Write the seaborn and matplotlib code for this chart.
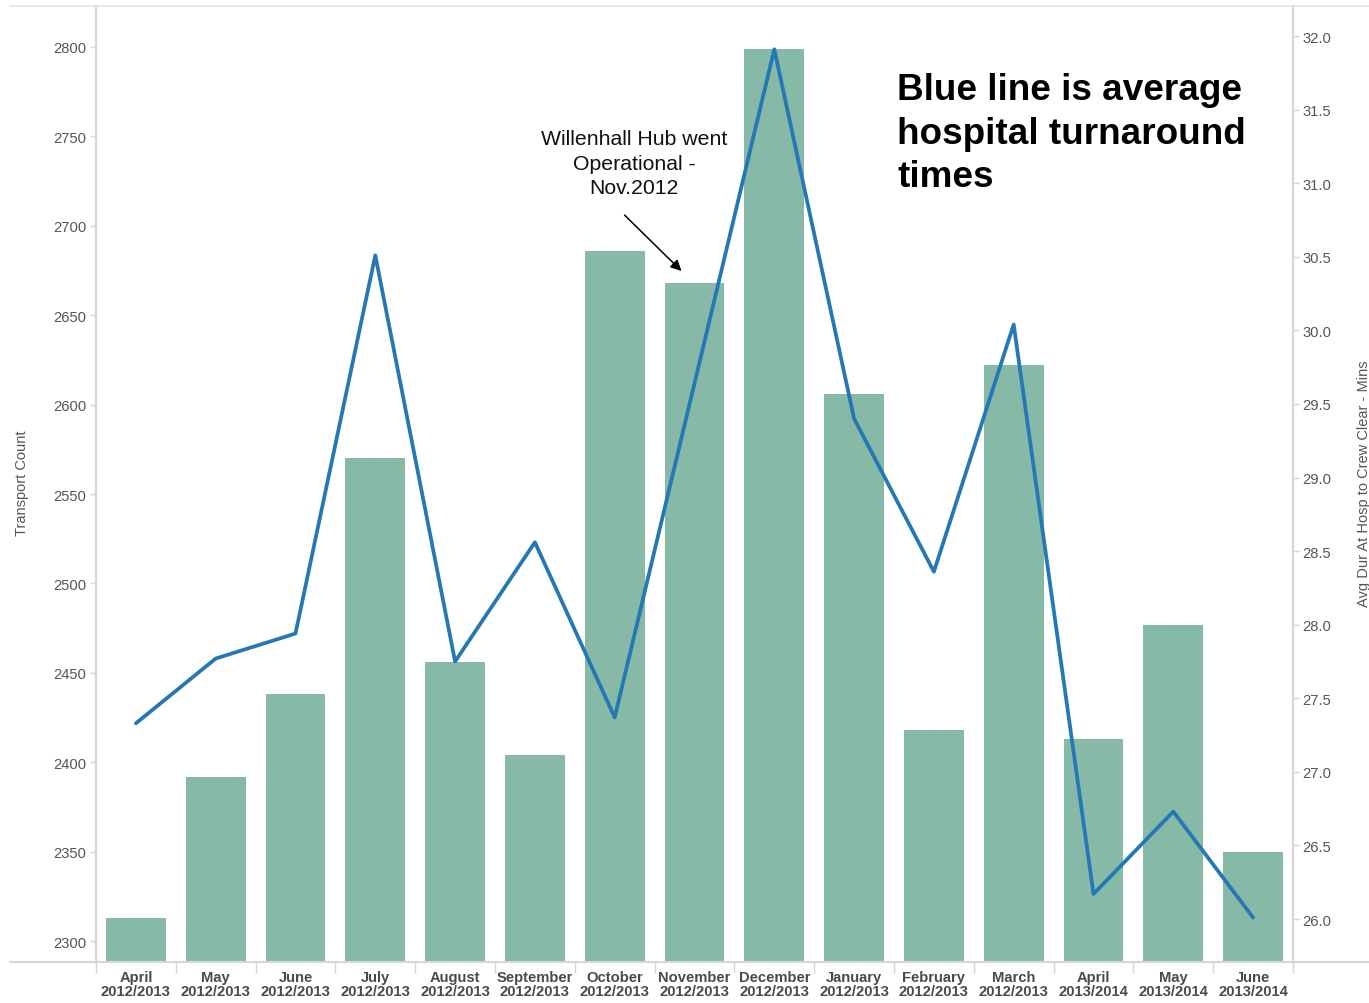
import matplotlib
matplotlib.use("Agg")
import matplotlib.pyplot as plt
from matplotlib.lines import Line2D
from matplotlib.ticker import FormatStrFormatter
import numpy as np
import pandas as pd
import seaborn as sns

# Monthly figures, April 2012 to June 2013
months = ["April", "May", "June", "July", "August", "September", "October",
          "November", "December", "January", "February", "March",
          "April", "May", "June"]
fin_years = ["2012/2013"] * 12 + ["2013/2014"] * 3
transport_count = [2313, 2392, 2438, 2570, 2456, 2404, 2686, 2668, 2799,
                   2606, 2418, 2622, 2413, 2477, 2350]
avg_turnaround_mins = [27.33, 27.77, 27.94, 30.51, 27.75, 28.56, 27.37, 29.64,
                       31.91, 29.40, 28.36, 30.04, 26.17, 26.73, 26.01]

left_ticks = list(range(2300, 2801, 50))
right_ticks = [26.0, 26.5, 27.0, 27.5, 28.0, 28.5, 29.0, 29.5, 30.0, 30.5,
               31.0, 31.5, 32.0]

periods = [f"{m}\n{y}" for m, y in zip(months, fin_years)]
df = pd.DataFrame({"period": periods,
                   "count": transport_count,
                   "mins": avg_turnaround_mins})

sns.set_theme(style="white")
plt.rcParams["font.family"] = ["Liberation Sans", "DejaVu Sans"]

W, H = 1369, 1004
fig = plt.figure(figsize=(W / 100, H / 100), dpi=100)
ax = fig.add_axes([96 / W, 41 / H, 1197 / W, 956 / H])

TICK_TXT = "#555555"
GRID = "#d6d6d6"

sns.barplot(data=df, x="period", y="count", color="#86BAA6", saturation=1,
            width=0.75, linewidth=0, edgecolor="none", ax=ax, zorder=2)
ax.set_ylim(2288.3, 2822.9)

ax2 = ax.twinx()
sns.lineplot(data=df, x="period", y="mins", color="#2478B5", linewidth=2.7,
             ax=ax2, sort=False)
ax2.set_ylim(25.708, 32.204)
ax.set_xlim(-0.5, 14.5)

# left axis
ax.set_yticks(left_ticks)
ax.tick_params(axis="y", which="major", left=True, length=4, width=1,
               color=GRID, labelcolor=TICK_TXT, labelsize=10.6, pad=3)
ax.set_ylabel("Transport Count", color=TICK_TXT, fontsize=10.5)
ax.yaxis.set_label_coords(-0.056, 0.502)

# category axis
ax.set_xlabel("")
ax.set_xticks(range(len(periods)))
ax.set_xticklabels(periods, fontweight="bold", color="#4a4a4a",
                   fontsize=10.6, linespacing=1.0)
ax.set_xticks(np.arange(-0.5, len(periods), 1), minor=True)
ax.tick_params(axis="x", which="major", bottom=True, length=0, pad=6)
ax.tick_params(axis="x", which="minor", bottom=True, length=8, width=1,
               color=GRID)

# right axis
ax2.set_yticks(right_ticks)
ax2.yaxis.set_major_formatter(FormatStrFormatter("%.1f"))
ax2.tick_params(axis="y", right=True, length=4, width=1, color=GRID,
                labelcolor=TICK_TXT, labelsize=10.6, pad=3)
ax2.set_ylabel("Avg Dur At Hosp to Crew Clear - Mins", color=TICK_TXT,
               fontsize=10.5, rotation=90)
ax2.yaxis.set_label_coords(1.0535, 0.501)
ax2.set_xlabel("")

for a in (ax, ax2):
    for side in ("top", "bottom"):
        a.spines[side].set_visible(False)
    for side in ("left", "right"):
        a.spines[side].set_color(GRID)
        a.spines[side].set_linewidth(1.5)

# frame lines running across the full width
fig.add_artist(Line2D([10 / W, 1], [1 - 963 / H] * 2, color=GRID, lw=1.5))
fig.add_artist(Line2D([10 / W, 1], [1 - 7 / H] * 2, color="#e4e4e4", lw=1.2))

# annotation for the hub opening
ax.text(6.242, 2735.1, "Willenhall Hub went\nOperational -\nNov.2012",
        ha="center", va="center", multialignment="center",
        fontsize=15.3, color="#111111", linespacing=1.38, zorder=5)
ax.annotate("", xy=(6.837, 2674.7), xytext=(6.123, 2706.0),
            arrowprops=dict(arrowstyle="-|>", color="black", lw=1.1,
                            mutation_scale=16, shrinkA=0, shrinkB=0),
            zorder=5)

fig.text(897 / W, 1 - 134 / H, "Blue line is average\nhospital turnaround\ntimes",
         ha="left", va="center", fontsize=26.6, fontweight="bold",
         color="black", linespacing=1.33)

fig.savefig("out.png", dpi=100)
